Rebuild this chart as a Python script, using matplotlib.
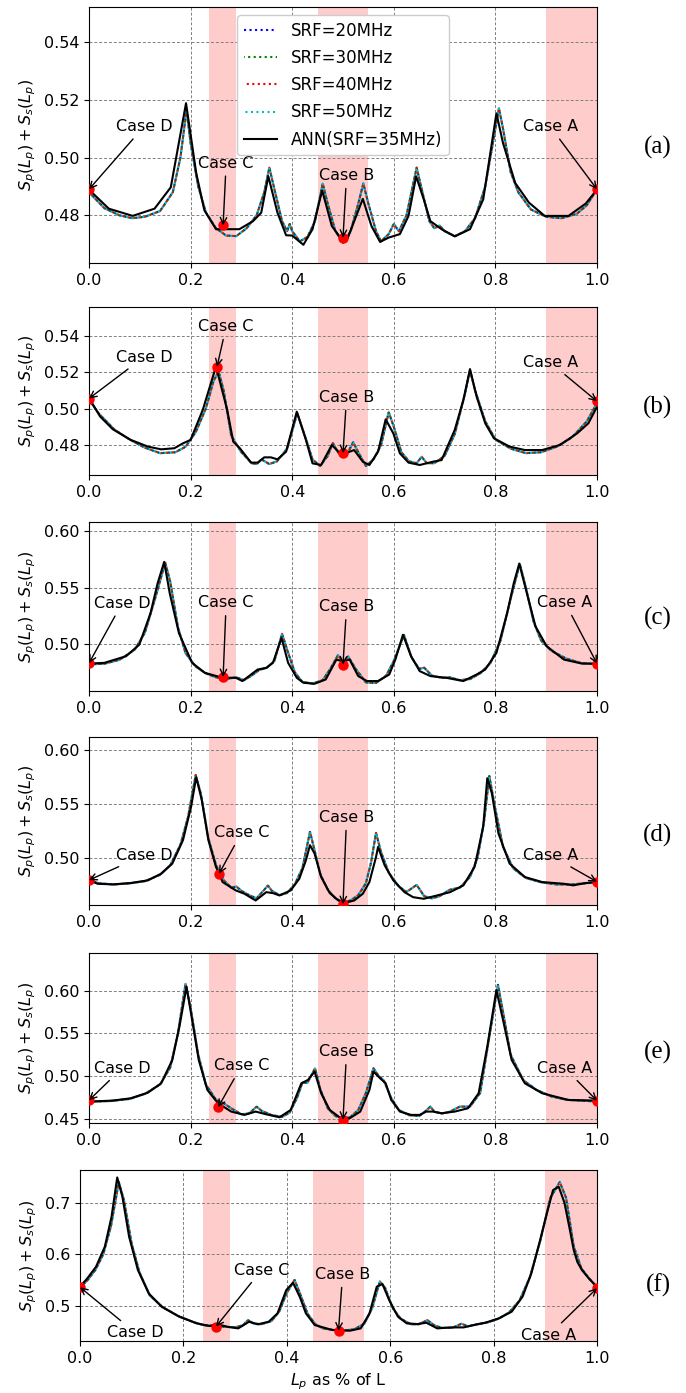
import matplotlib
matplotlib.use('Agg')
import matplotlib.pyplot as plt

# ---------------- data ----------------
srf_labels = ['SRF=20MHz', 'SRF=30MHz', 'SRF=40MHz', 'SRF=50MHz']
srf_colors = ['blue', 'green', 'red', 'c']
ann_label = 'ANN(SRF=35MHz)'
panel_tags = ['(a)', '(b)', '(c)', '(d)', '(e)', '(f)']

# (a)
x_srf_a = [0.00, 0.03, 0.06, 0.085, 0.11, 0.14, 0.165, 0.18, 0.192, 0.20, 0.215, 0.23, 0.25, 0.27,
           0.29, 0.31, 0.33, 0.345, 0.355, 0.365, 0.38, 0.39, 0.395, 0.40, 0.415, 0.43, 0.445, 0.46,
           0.47, 0.485, 0.50, 0.515, 0.53, 0.54, 0.55, 0.565, 0.575, 0.59, 0.60, 0.61, 0.625, 0.645,
           0.655, 0.67, 0.68, 0.69, 0.70, 0.72, 0.74, 0.76, 0.78, 0.795, 0.807, 0.815, 0.83, 0.845,
           0.87, 0.90, 0.93, 0.96, 0.98, 1.00]
y_srf_a = [0.4880, 0.4825, 0.4800, 0.4790, 0.4795, 0.4815, 0.4880, 0.5000, 0.5165, 0.5050, 0.4900,
           0.4810, 0.4755, 0.4730, 0.4728, 0.4755, 0.4800, 0.4880, 0.4965, 0.4890, 0.4780, 0.4745,
           0.4770, 0.4745, 0.4710, 0.4725, 0.4780, 0.4910, 0.4840, 0.4745, 0.4705, 0.4745, 0.4840,
           0.4910, 0.4840, 0.4745, 0.4710, 0.4735, 0.4770, 0.4745, 0.4800, 0.4965, 0.4890, 0.4780,
           0.4755, 0.4765, 0.4745, 0.4728, 0.4745, 0.4790, 0.4900, 0.5050, 0.5170, 0.5100, 0.4950,
           0.4880, 0.4820, 0.4795, 0.4790, 0.4805, 0.4835, 0.4890]
x_ann_a = [0.0, 0.039, 0.086, 0.129, 0.161, 0.191, 0.211, 0.227, 0.25, 0.296, 0.323, 0.339, 0.353,
           0.371, 0.388, 0.40, 0.422, 0.44, 0.459, 0.478, 0.496, 0.509, 0.539, 0.556, 0.573, 0.59,
           0.612, 0.629, 0.644, 0.659, 0.672, 0.694, 0.72, 0.75, 0.776, 0.802, 0.815, 0.839, 0.866,
           0.897, 0.944, 0.978, 1.0]
y_ann_a = [0.4889, 0.4823, 0.4798, 0.4823, 0.4897, 0.5188, 0.4947, 0.4818, 0.4752, 0.4752, 0.4780,
           0.4809, 0.4935, 0.4809, 0.4731, 0.4730, 0.4698, 0.4752, 0.4886, 0.4763, 0.4720, 0.4720,
           0.4857, 0.4763, 0.4708, 0.4723, 0.4735, 0.4798, 0.4935, 0.4855, 0.4780, 0.4752, 0.4727,
           0.4752, 0.4855, 0.5153, 0.5050, 0.4912, 0.4844, 0.4798, 0.4798, 0.4841, 0.4889]

# (b)
x_srf_b = [0.00, 0.02, 0.05, 0.08, 0.11, 0.14, 0.17, 0.19, 0.21, 0.23, 0.245, 0.255, 0.265, 0.28,
           0.30, 0.32, 0.33, 0.34, 0.355, 0.37, 0.39, 0.41, 0.425, 0.44, 0.455, 0.47, 0.48, 0.49,
           0.50, 0.51, 0.52, 0.53, 0.545, 0.56, 0.575, 0.59, 0.60, 0.615, 0.63, 0.645, 0.655, 0.665,
           0.68, 0.70, 0.72, 0.74, 0.75, 0.76, 0.78, 0.80, 0.83, 0.86, 0.89, 0.92, 0.95, 0.98, 1.00]
y_srf_b = [0.5050, 0.4970, 0.4885, 0.4830, 0.4785, 0.4755, 0.4760, 0.4790, 0.4870, 0.5000, 0.5150,
           0.5205, 0.5100, 0.4850, 0.4760, 0.4700, 0.4695, 0.4720, 0.4695, 0.4710, 0.4780, 0.4975,
           0.4850, 0.4720, 0.4685, 0.4740, 0.4810, 0.4760, 0.4735, 0.4760, 0.4815, 0.4760, 0.4685,
           0.4720, 0.4800, 0.4980, 0.4900, 0.4760, 0.4710, 0.4700, 0.4735, 0.4700, 0.4700, 0.4740,
           0.4860, 0.5080, 0.5210, 0.5100, 0.4930, 0.4830, 0.4780, 0.4755, 0.4760, 0.4790, 0.4840,
           0.4930, 0.5030]
x_ann_b = [0.0, 0.022, 0.047, 0.082, 0.116, 0.142, 0.168, 0.185, 0.20, 0.224, 0.25, 0.272, 0.284,
           0.297, 0.319, 0.332, 0.345, 0.358, 0.371, 0.388, 0.409, 0.427, 0.44, 0.457, 0.478, 0.491,
           0.504, 0.522, 0.539, 0.552, 0.569, 0.584, 0.599, 0.612, 0.629, 0.651, 0.677, 0.694, 0.72,
           0.737, 0.75, 0.763, 0.78, 0.797, 0.828, 0.858, 0.892, 0.927, 0.961, 0.983, 1.0]
y_ann_b = [0.5057, 0.4956, 0.4886, 0.4828, 0.4791, 0.4776, 0.4782, 0.4809, 0.4828, 0.4993, 0.5231,
           0.4993, 0.4818, 0.4782, 0.4703, 0.4703, 0.4732, 0.4732, 0.4721, 0.4763, 0.4983, 0.4828,
           0.4699, 0.4690, 0.4800, 0.4763, 0.4754, 0.4772, 0.4708, 0.4690, 0.4763, 0.4941, 0.4864,
           0.4754, 0.4703, 0.4690, 0.4708, 0.4717, 0.4883, 0.5048, 0.5217, 0.5066, 0.4919, 0.4837,
           0.4791, 0.4772, 0.4772, 0.4800, 0.4864, 0.4919, 0.5010]

# (c)
x_srf_c = [0.00, 0.03, 0.06, 0.09, 0.11, 0.13, 0.15, 0.16, 0.175, 0.19, 0.21, 0.23, 0.25, 0.27,
           0.29, 0.305, 0.32, 0.335, 0.35, 0.365, 0.38, 0.39, 0.405, 0.42, 0.44, 0.46, 0.475, 0.49,
           0.50, 0.51, 0.525, 0.545, 0.565, 0.585, 0.60, 0.62, 0.635, 0.65, 0.66, 0.675, 0.695, 0.71,
           0.73, 0.75, 0.77, 0.79, 0.81, 0.83, 0.848, 0.86, 0.875, 0.89, 0.91, 0.94, 0.97, 1.00]
y_srf_c = [0.4820, 0.4825, 0.4860, 0.4950, 0.5100, 0.5400, 0.5720, 0.5550, 0.5150, 0.4920, 0.4800,
           0.4740, 0.4705, 0.4690, 0.4705, 0.4680, 0.4720, 0.4770, 0.4790, 0.4850, 0.5090, 0.4950,
           0.4750, 0.4665, 0.4650, 0.4680, 0.4780, 0.4900, 0.4840, 0.4890, 0.4780, 0.4660, 0.4655,
           0.4720, 0.4850, 0.5080, 0.4880, 0.4780, 0.4790, 0.4720, 0.4700, 0.4705, 0.4680, 0.4690,
           0.4740, 0.4830, 0.5030, 0.5400, 0.5710, 0.5500, 0.5200, 0.5030, 0.4940, 0.4870, 0.4830,
           0.4820]
x_ann_c = [0.0, 0.03, 0.073, 0.099, 0.121, 0.135, 0.148, 0.159, 0.177, 0.203, 0.228, 0.263, 0.289,
           0.302, 0.319, 0.332, 0.349, 0.362, 0.379, 0.392, 0.409, 0.422, 0.444, 0.466, 0.487, 0.50,
           0.513, 0.53, 0.547, 0.569, 0.591, 0.603, 0.618, 0.634, 0.651, 0.672, 0.703, 0.737, 0.763,
           0.78, 0.802, 0.823, 0.836, 0.847, 0.862, 0.879, 0.901, 0.935, 0.97, 1.0]
y_ann_c = [0.4827, 0.4833, 0.4892, 0.4994, 0.5272, 0.5536, 0.5727, 0.5448, 0.5097, 0.4833, 0.4745,
           0.4701, 0.4701, 0.4672, 0.4730, 0.4774, 0.4789, 0.4833, 0.5053, 0.4833, 0.4701, 0.4657,
           0.4648, 0.4686, 0.4862, 0.4845, 0.4862, 0.4716, 0.4672, 0.4672, 0.4730, 0.4862, 0.5082,
           0.4892, 0.4760, 0.4716, 0.4701, 0.4672, 0.4730, 0.4774, 0.4921, 0.5272, 0.5536, 0.5712,
           0.5448, 0.5155, 0.4980, 0.4862, 0.4827, 0.4827]

# (d)
x_srf_d = [0.00, 0.02, 0.05, 0.08, 0.11, 0.14, 0.16, 0.18, 0.195, 0.21, 0.22, 0.235, 0.25, 0.265,
           0.28, 0.29, 0.30, 0.315, 0.33, 0.345, 0.352, 0.36, 0.375, 0.39, 0.405, 0.42, 0.435, 0.445,
           0.455, 0.47, 0.485, 0.50, 0.515, 0.53, 0.545, 0.555, 0.565, 0.575, 0.59, 0.61, 0.625,
           0.645, 0.66, 0.675, 0.69, 0.71, 0.73, 0.75, 0.765, 0.778, 0.788, 0.80, 0.815, 0.835, 0.86,
           0.89, 0.92, 0.95, 0.975, 1.00]
y_srf_d = [0.4790, 0.4760, 0.4750, 0.4760, 0.4780, 0.4840, 0.4930, 0.5120, 0.5380, 0.5770, 0.5600,
           0.5180, 0.4930, 0.4790, 0.4720, 0.4730, 0.4690, 0.4650, 0.4620, 0.4700, 0.4740, 0.4690,
           0.4650, 0.4670, 0.4750, 0.4900, 0.5240, 0.5050, 0.4850, 0.4700, 0.4620, 0.4585, 0.4600,
           0.4650, 0.4760, 0.4950, 0.5230, 0.5050, 0.4860, 0.4730, 0.4680, 0.4745, 0.4640, 0.4620,
           0.4640, 0.4700, 0.4720, 0.4820, 0.5000, 0.5350, 0.5760, 0.5450, 0.5100, 0.4900, 0.4810,
           0.4770, 0.4750, 0.4750, 0.4760, 0.4770]
x_ann_d = [0.0, 0.017, 0.047, 0.082, 0.116, 0.142, 0.164, 0.185, 0.201, 0.211, 0.222, 0.235, 0.25,
           0.263, 0.289, 0.306, 0.328, 0.349, 0.362, 0.375, 0.397, 0.414, 0.427, 0.435, 0.444, 0.457,
           0.474, 0.491, 0.504, 0.522, 0.539, 0.552, 0.565, 0.569, 0.582, 0.599, 0.621, 0.638, 0.659,
           0.685, 0.711, 0.737, 0.759, 0.776, 0.784, 0.793, 0.806, 0.828, 0.858, 0.892, 0.935, 0.953,
           0.978, 1.0]
y_ann_d = [0.4788, 0.4756, 0.4750, 0.4763, 0.4788, 0.4850, 0.4944, 0.5163, 0.5475, 0.5750, 0.5538,
           0.5163, 0.4913, 0.4772, 0.4694, 0.4663, 0.4600, 0.4678, 0.4669, 0.4647, 0.4694, 0.4803,
           0.4975, 0.5116, 0.5038, 0.4819, 0.4669, 0.4600, 0.4578, 0.4600, 0.4663, 0.4772, 0.5006,
           0.5100, 0.4928, 0.4788, 0.4678, 0.4631, 0.4616, 0.4647, 0.4678, 0.4741, 0.4913, 0.5288,
           0.5741, 0.5600, 0.5225, 0.4944, 0.4819, 0.4772, 0.4756, 0.4741, 0.4763, 0.4772]

# (e)
x_srf_e = [0.00, 0.04, 0.08, 0.11, 0.14, 0.16, 0.175, 0.19, 0.20, 0.215, 0.23, 0.25, 0.265, 0.28,
           0.30, 0.315, 0.33, 0.34, 0.36, 0.38, 0.395, 0.41, 0.42, 0.43, 0.445, 0.455, 0.47, 0.485,
           0.50, 0.515, 0.53, 0.545, 0.56, 0.57, 0.58, 0.595, 0.61, 0.63, 0.65, 0.665, 0.672, 0.68,
           0.695, 0.71, 0.73, 0.75, 0.77, 0.785, 0.805, 0.815, 0.83, 0.855, 0.88, 0.91, 0.94, 0.97,
           1.00]
y_srf_e = [0.4700, 0.4705, 0.4730, 0.4790, 0.4900, 0.5100, 0.5500, 0.6080, 0.5800, 0.5250, 0.4900,
           0.4720, 0.4680, 0.4620, 0.4550, 0.4560, 0.4640, 0.4590, 0.4540, 0.4520, 0.4570, 0.4750,
           0.4920, 0.4920, 0.5090, 0.4850, 0.4620, 0.4530, 0.4500, 0.4520, 0.4600, 0.4800, 0.5090,
           0.5000, 0.4950, 0.4740, 0.4600, 0.4540, 0.4530, 0.4600, 0.4640, 0.4580, 0.4560, 0.4580,
           0.4640, 0.4640, 0.4800, 0.5350, 0.6070, 0.5750, 0.5250, 0.4950, 0.4840, 0.4760, 0.4720,
           0.4710, 0.4700]
x_ann_e = [0.0, 0.047, 0.082, 0.116, 0.142, 0.164, 0.178, 0.192, 0.203, 0.216, 0.233, 0.254, 0.28,
           0.306, 0.328, 0.349, 0.375, 0.397, 0.418, 0.431, 0.444, 0.457, 0.474, 0.496, 0.513, 0.534,
           0.552, 0.56, 0.573, 0.584, 0.595, 0.612, 0.634, 0.651, 0.664, 0.677, 0.694, 0.72, 0.746,
           0.767, 0.784, 0.802, 0.815, 0.832, 0.858, 0.892, 0.944, 1.0]
y_ann_e = [0.4699, 0.4711, 0.4738, 0.4804, 0.4914, 0.5188, 0.5579, 0.6048, 0.5657, 0.5188, 0.4836,
           0.4679, 0.4582, 0.4543, 0.4582, 0.4550, 0.4515, 0.4601, 0.4914, 0.4953, 0.5051, 0.4797,
           0.4601, 0.4503, 0.4503, 0.4582, 0.4836, 0.5051, 0.4973, 0.4914, 0.4718, 0.4582, 0.4543,
           0.4543, 0.4582, 0.4582, 0.4562, 0.4582, 0.4621, 0.4797, 0.5344, 0.6009, 0.5657, 0.5188,
           0.4914, 0.4797, 0.4718, 0.4711]

# (f)
x_srf_f = [0.00, 0.015, 0.03, 0.045, 0.06, 0.075, 0.085, 0.10, 0.115, 0.135, 0.16, 0.19, 0.22,
           0.24, 0.26, 0.28, 0.30, 0.315, 0.325, 0.335, 0.35, 0.37, 0.385, 0.40, 0.415, 0.425, 0.44,
           0.455, 0.47, 0.49, 0.51, 0.53, 0.55, 0.565, 0.58, 0.59, 0.605, 0.62, 0.64, 0.655, 0.672,
           0.685, 0.70, 0.72, 0.738, 0.75, 0.77, 0.79, 0.81, 0.83, 0.85, 0.87, 0.89, 0.91, 0.928,
           0.94, 0.955, 0.97, 0.985, 1.00]
y_srf_f = [0.5350, 0.5500, 0.5700, 0.6000, 0.6550, 0.7400, 0.7050, 0.6200, 0.5650, 0.5200, 0.4970,
           0.4800, 0.4680, 0.4620, 0.4610, 0.4590, 0.4580, 0.4620, 0.4720, 0.4660, 0.4640, 0.4700,
           0.4880, 0.5250, 0.5500, 0.5250, 0.4850, 0.4640, 0.4560, 0.4530, 0.4520, 0.4540, 0.4650,
           0.4950, 0.5470, 0.5350, 0.4950, 0.4750, 0.4640, 0.4640, 0.4720, 0.4620, 0.4570, 0.4570,
           0.4650, 0.4600, 0.4640, 0.4680, 0.4750, 0.4870, 0.5100, 0.5550, 0.6250, 0.7100, 0.7400,
           0.7100, 0.6150, 0.5720, 0.5530, 0.5350]
x_ann_f = [0.0, 0.014, 0.031, 0.048, 0.061, 0.072, 0.082, 0.095, 0.112, 0.133, 0.158, 0.192, 0.226,
           0.251, 0.264, 0.285, 0.306, 0.327, 0.344, 0.365, 0.382, 0.399, 0.412, 0.425, 0.437, 0.454,
           0.488, 0.522, 0.543, 0.56, 0.574, 0.585, 0.598, 0.615, 0.632, 0.653, 0.67, 0.691, 0.717,
           0.742, 0.767, 0.784, 0.81, 0.835, 0.856, 0.873, 0.89, 0.903, 0.915, 0.926, 0.937, 0.947,
           0.955, 0.962, 0.971, 0.985, 1.0]
y_ann_f = [0.5369, 0.5530, 0.5757, 0.6145, 0.6728, 0.7491, 0.7116, 0.6339, 0.5692, 0.5239, 0.4981,
           0.4787, 0.4657, 0.4605, 0.4644, 0.4592, 0.4560, 0.4689, 0.4638, 0.4689, 0.4851, 0.5304,
           0.5446, 0.5175, 0.4851, 0.4625, 0.4528, 0.4515, 0.4560, 0.4851, 0.5369, 0.5421, 0.5110,
           0.4787, 0.4657, 0.4644, 0.4670, 0.4560, 0.4579, 0.4579, 0.4638, 0.4670, 0.4754, 0.4884,
           0.5175, 0.5628, 0.6275, 0.6792, 0.7245, 0.7310, 0.7000, 0.6500, 0.6080, 0.5850, 0.5690,
           0.5520, 0.5370]

# marked cases (A, B, C, D) per panel: x, y of the red dots
case_names = ['Case A', 'Case B', 'Case C', 'Case D']
case_x = [[1.0, 0.50, 0.264, 0.0], [1.0, 0.50, 0.252, 0.0], [1.0, 0.50, 0.264, 0.0],
          [1.0, 0.50, 0.256, 0.0], [1.0, 0.50, 0.254, 0.0], [1.0, 0.50, 0.263, 0.0]]
case_y = [[0.4890, 0.4722, 0.4765, 0.4890], [0.5040, 0.4755, 0.5230, 0.5055],
          [0.4827, 0.4818, 0.4707, 0.4830], [0.4775, 0.4565, 0.4850, 0.4790],
          [0.4710, 0.4485, 0.4632, 0.4715], [0.5340, 0.4515, 0.4595, 0.5360]]
# label positions of the case annotations
text_x = [[0.908, 0.507, 0.27, 0.108], [0.908, 0.507, 0.27, 0.108], [0.937, 0.507, 0.27, 0.065],
          [0.908, 0.507, 0.30, 0.108], [0.937, 0.507, 0.30, 0.065], [0.907, 0.508, 0.351, 0.107]]
text_y = [[0.5107, 0.4938, 0.4981, 0.5107], [0.5253, 0.5062, 0.5451, 0.5283],
          [0.5366, 0.5330, 0.5366, 0.5360], [0.5022, 0.5375, 0.5231, 0.5022],
          [0.5090, 0.5285, 0.5117, 0.5090], [0.4430, 0.5608, 0.5692, 0.4476]]

shade_spans = [(0.237, 0.29), (0.45, 0.55), (0.90, 1.0)]

ylims = [(0.4635, 0.5521), (0.4635, 0.5558), (0.4584, 0.6080),
         (0.4558, 0.6125), (0.4448, 0.6443), (0.4315, 0.7635)]
yticks = [[0.48, 0.50, 0.52, 0.54], [0.48, 0.50, 0.52, 0.54], [0.50, 0.55, 0.60],
          [0.50, 0.55, 0.60], [0.45, 0.50, 0.55, 0.60], [0.5, 0.6, 0.7]]
yfmt = ['%.2f', '%.2f', '%.2f', '%.2f', '%.2f', '%.1f']

srf_x = [x_srf_a, x_srf_b, x_srf_c, x_srf_d, x_srf_e, x_srf_f]
srf_y = [y_srf_a, y_srf_b, y_srf_c, y_srf_d, y_srf_e, y_srf_f]
ann_x = [x_ann_a, x_ann_b, x_ann_c, x_ann_d, x_ann_e, x_ann_f]
ann_y = [y_ann_a, y_ann_b, y_ann_c, y_ann_d, y_ann_e, y_ann_f]

# ---------------- layout (pixels: left, top, right, bottom) ----------------
W, H = 686, 1393
boxes = [(89, 7, 597, 263), (89, 307, 597, 475), (89, 522, 597, 691),
         (89, 737, 597, 905), (89, 953, 597, 1123), (80, 1170, 597, 1341)]
tag_y = [147, 407, 618, 835, 1052, 1285]

plt.rcParams['font.size'] = 11.5
fig = plt.figure(figsize=(W / 100, H / 100), dpi=100)

for i in range(6):
    l, t, r, b = boxes[i]
    ax = fig.add_axes([l / W, 1 - b / H, (r - l) / W, (b - t) / H])
    for lo, hi in shade_spans:
        ax.axvspan(lo, hi, color='red', alpha=0.2, lw=0, zorder=0)
    for k in range(4):
        ax.plot(srf_x[i], srf_y[i], color=srf_colors[k], lw=1.5,
                linestyle=(0.66 * k, (1, 1.65)), label=srf_labels[k], zorder=2)
    ax.plot(ann_x[i], ann_y[i], color='black', lw=1.5, label=ann_label, zorder=3)
    ax.plot(case_x[i], case_y[i], 'o', color='red', ms=6.5, zorder=4)
    for k in range(4):
        ax.annotate(case_names[k], xy=(case_x[i][k], case_y[i][k]),
                    xytext=(text_x[i][k], text_y[i][k]), ha='center', va='center',
                    arrowprops=dict(arrowstyle='->', color='black', lw=1, shrinkB=0), zorder=5)
    ax.set_xlim(0, 1)
    ax.set_ylim(*ylims[i])
    ax.set_xticks([0.0, 0.2, 0.4, 0.6, 0.8, 1.0])
    ax.set_yticks(yticks[i])
    ax.set_yticklabels([yfmt[i] % v for v in yticks[i]])
    ax.grid(True, linestyle=(0, (3, 2)), color='grey', lw=0.7)
    ax.set_axisbelow(True)
    ax.set_ylabel('$S_p(L_p) + S_s(L_p)$')
    if i == 0:
        ax.legend(loc='upper center', fontsize=12, labelspacing=0.55, framealpha=1)
    if i == 5:
        ax.set_xlabel('$L_p$ as % of L')
    fig.text(658 / W, 1 - tag_y[i] / H, panel_tags[i], family='Liberation Serif',
             fontsize=18, ha='center', va='center')

fig.savefig('out.png', dpi=100)
